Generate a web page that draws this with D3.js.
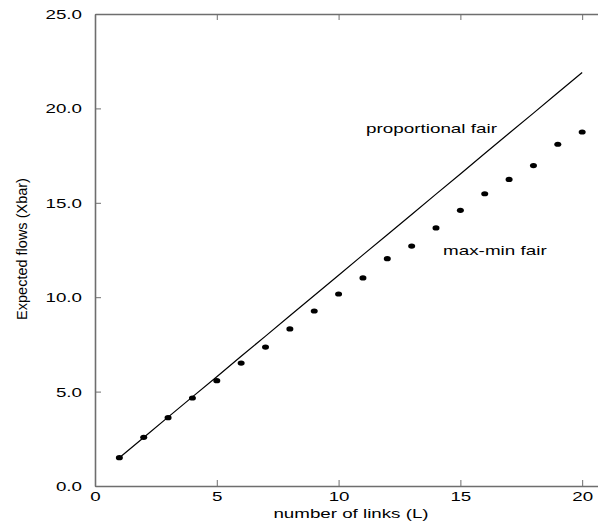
<!DOCTYPE html>
<html>
<head>
<meta charset="utf-8">
<script src="https://cdn.jsdelivr.net/npm/d3@7"></script>
<style>
  body { margin: 0; background: #fff; }
  text { font-family: "Liberation Sans", Arial, sans-serif; fill: #000; }
</style>
</head>
<body>
<div id="chart"></div>
<script>
// chart data
var links = [1, 2, 3, 4, 5, 6, 7, 8, 9, 10, 11, 12, 13, 14, 15, 16, 17, 18, 19, 20];
var propFair = [1.50, 2.57, 3.65, 4.72, 5.79, 6.87, 7.94, 9.02, 10.09, 11.16,
  12.24, 13.31, 14.38, 15.46, 16.53, 17.61, 18.68, 19.75, 20.83, 21.90];
var maxMinFair = [1.50, 2.58, 3.62, 4.66, 5.58, 6.51, 7.36, 8.32, 9.27, 10.17,
  11.02, 12.04, 12.71, 13.67, 14.60, 15.48, 16.24, 16.97, 18.10, 18.75];
var xTicks = [0, 5, 10, 15, 20];
var yTicks = [0, 5, 10, 15, 20, 25];

var svgWidth = 598;
var svgHeight = 526;

var margin = { top: 14, right: 0, bottom: 40, left: 95 };
var width = svgWidth - margin.left - margin.right;
var height = svgHeight - margin.top - margin.bottom;

var svg = d3.select("#chart")
  .append("svg")
  .attr("width", svgWidth)
  .attr("height", svgHeight);

var chartGroup = svg.append("g")
  .attr("transform", `translate(${margin.left}, ${margin.top})`);

// scales
var xScale = d3.scaleLinear().domain([0, 20.65]).range([0, width]);
var yScale = d3.scaleLinear().domain([0, 25]).range([height, 0]);

var stretch = 1.5; // the labels in the picture are wide

// bottom axis
var xAxis = chartGroup.append("g")
  .attr("transform", `translate(0, ${height})`)
  .call(d3.axisBottom(xScale).tickValues(xTicks).tickSizeInner(-6).tickSizeOuter(0)
    .tickPadding(6).tickFormat(d3.format("d")));

// top axis, ticks only
var topAxis = chartGroup.append("g")
  .call(d3.axisTop(xScale).tickValues(xTicks).tickSizeInner(-6).tickSizeOuter(0)
    .tickFormat(""));

// left axis
var yAxis = chartGroup.append("g")
  .call(d3.axisLeft(yScale).tickValues(yTicks).tickSizeInner(-6).tickSizeOuter(0)
    .tickFormat(d3.format(".1f")));

[xAxis, topAxis, yAxis].forEach(function(ax) {
  ax.select(".domain").attr("stroke", "#6e6e6e").attr("stroke-width", 1.6);
  ax.selectAll(".tick line").attr("stroke", "#6e6e6e").attr("stroke-width", 1);
});

xAxis.selectAll(".tick text")
  .attr("font-size", "12.5px")
  .attr("y", 15.5)
  .attr("dy", 0)
  .attr("transform", `scale(${stretch},1)`);

yAxis.selectAll(".tick text")
  .attr("font-size", "12.5px")
  .attr("x", -13 / stretch)
  .attr("dy", "0.36em")
  .attr("transform", `scale(${stretch},1)`);

// proportional fair line
var line = d3.line()
  .x((d, i) => xScale(links[i]))
  .y(d => yScale(d));

chartGroup.append("path")
  .datum(propFair)
  .attr("d", line)
  .attr("fill", "none")
  .attr("stroke", "#000")
  .attr("stroke-width", 1.2);

// max-min fair points
chartGroup.selectAll(".dot")
  .data(maxMinFair)
  .enter()
  .append("ellipse")
  .attr("class", "dot")
  .attr("cx", (d, i) => xScale(links[i]))
  .attr("cy", d => yScale(d))
  .attr("rx", 3.5)
  .attr("ry", 2.6)
  .attr("fill", "#000");

// curve labels
svg.append("text")
  .attr("transform", `translate(366, 133) scale(1.45,1)`)
  .attr("font-size", "13px")
  .text("proportional fair");

svg.append("text")
  .attr("transform", `translate(443, 255) scale(1.45,1)`)
  .attr("font-size", "13px")
  .text("max-min fair");

// axis titles
svg.append("text")
  .attr("transform", `translate(351, 518) scale(1.5,1)`)
  .attr("text-anchor", "middle")
  .attr("font-size", "12.5px")
  .text("number of links (L)");

svg.append("text")
  .attr("transform", `translate(27, 249) rotate(-90)`)
  .attr("text-anchor", "middle")
  .attr("font-size", "14.5px")
  .text("Expected flows (Xbar)");
</script>
</body>
</html>
